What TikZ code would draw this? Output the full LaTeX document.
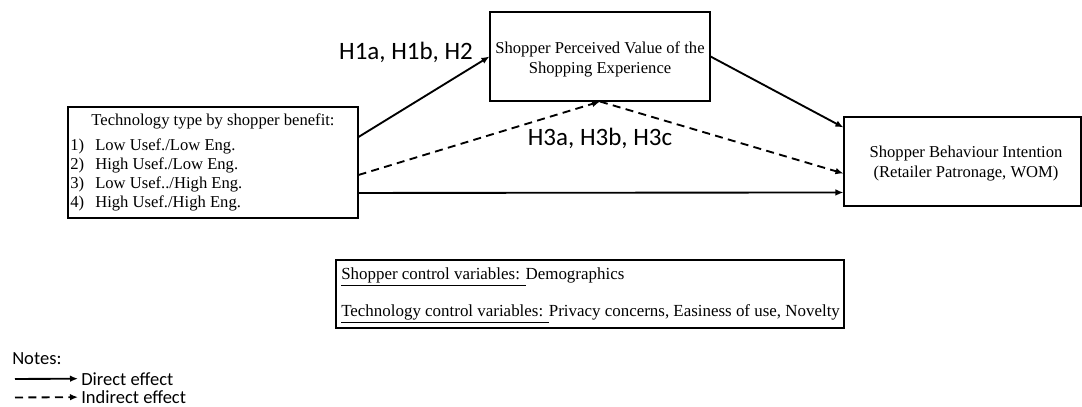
\documentclass[tikz,border=0pt]{standalone}
\usepackage{fontspec}
\setmainfont{Liberation Serif}
\newfontfamily\calib{Carlito}
\usetikzlibrary{arrows.meta,calc}
\begin{document}
\begin{tikzpicture}[x=0.75pt,y=-0.75pt,
  box/.style={draw,line width=0.8pt,rectangle,inner sep=0pt},
  txt/.style={inner sep=0pt,font=\fontsize{12.45pt}{15pt}\selectfont},
  ctxt/.style={inner sep=0pt,font=\fontsize{12.7pt}{15pt}\selectfont},
  lab/.style={inner sep=0pt,font=\calib\fontsize{18.75pt}{22pt}\selectfont},
  note/.style={inner sep=0pt,font=\calib\fontsize{13.9pt}{16pt}\selectfont},
  conn/.style={line width=1.4pt,-{Latex[length=6pt,width=5pt]}},
  ind/.style={conn,dash pattern=on 6pt off 4pt}]
\useasboundingbox (0,0) rectangle (1082,407);
% boxes
\node[box,minimum width=217.5pt,minimum height=83.25pt] (L) at (213,162.5) {};
\node[box,minimum width=165pt,minimum height=66.75pt] (M) at (600,56.5) {};
\node[box,minimum width=177.75pt,minimum height=66.75pt] (R) at (962.5,161.5) {};
\node[box,minimum width=381pt,minimum height=51pt] (C) at (590,294) {};
% left box text
\node[txt,anchor=base] (Lt) at (213,125.5) {Technology type by shopper benefit:};
\node[txt,anchor=base west] (L1n) at (70,150) {1)};
\node[txt,anchor=base west] (L1) at (95,150) {Low Usef./Low Eng.};
\node[txt,anchor=base west] (L2n) at (70,169) {2)};
\node[txt,anchor=base west] (L2) at (95,169) {High Usef./Low Eng.};
\node[txt,anchor=base west] (L3n) at (70,188) {3)};
\node[txt,anchor=base west] (L3) at (95,188) {Low Usef../High Eng.};
\node[txt,anchor=base west] (L4n) at (70,207) {4)};
\node[txt,anchor=base west] (L4) at (95,207) {High Usef./High Eng.};
% middle box text
\node[txt,anchor=base] (Mt1) at (600,53.5) {Shopper Perceived Value of the};
\node[txt,anchor=base] (Mt2) at (600,73) {Shopping Experience};
% right box text
\node[txt,anchor=base] (Rt1) at (966,157) {Shopper Behaviour Intention};
\node[txt,anchor=base] (Rt2) at (966,177) {(Retailer Patronage, WOM)};
% control box text
\node[ctxt,anchor=base west] (C1) at (341,279.5) {\underline{Shopper control variables: }Demographics};
\node[ctxt,anchor=base west] (C2) at (341,316.5) {\underline{Technology control variables: }Privacy concerns, Easiness of use, Novelty};
% hypothesis labels
\node[lab,anchor=base] (H1) at (406,59.7) {H1a, H1b, H2};
\node[lab,anchor=base] (H3) at (600,145) {H3a, H3b, H3c};
% connectors
\coordinate (Ls1) at ($(L.north east)+(0,30.5)$);
\coordinate (Ls2) at ($(L.north east)+(0,68.5)$);
\coordinate (Ls3) at ($(L.north east)+(0,86.5)$);
\coordinate (Re1) at ($(R.north west)+(0,11)$);
\coordinate (Re2) at ($(R.north west)+(0,57)$);
\coordinate (Re3) at ($(R.north west)+(0,76)$);
\draw[conn] (Ls1) -- (M.west);
\draw[conn] (M.east) -- (Re1);
\draw[ind] (Ls2) -- (M.south);
\draw[ind] (M.south) -- (Re2);
\draw[conn] (Ls3) -- (Re3);
% notes
\node[note,anchor=base west] (N) at (12,364) {Notes:};
\node[note,anchor=base west] (Nd) at (81,385) {Direct effect};
\node[note,anchor=base west] (Ni) at (81,403.5) {Indirect effect};
\coordinate (Nd0) at (15,379);
\coordinate (Ni0) at (15,397.5);
\draw[conn] (Nd0) -- ($(Nd.west)+(-3,0)$);
\draw[ind] (Ni0) -- ($(Ni.west)+(-3,0)$);
\end{tikzpicture}
\end{document}
